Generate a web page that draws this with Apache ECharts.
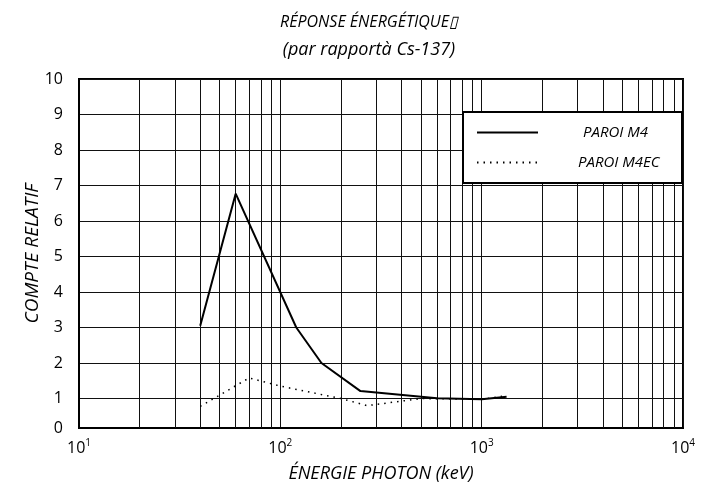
<!DOCTYPE html>
<html><head><meta charset="utf-8">
<script src="https://cdn.jsdelivr.net/npm/echarts@6/dist/echarts.min.js"></script>
<style>html,body{margin:0;padding:0;background:#fff}#c{width:707px;height:495px}</style>
</head><body><div id="c"></div>
<script>
// ---- data ----
const seriesNames = ['PAROI M4', 'PAROI M4EC'];
const energyM4   = [40, 60, 120, 160, 250, 600, 1000, 1330];
const valuesM4   = [3.05, 6.77, 3.0, 2.0, 1.21, 1.01, 0.98, 1.05];
const energyM4EC = [40, 70, 100, 200, 270, 500, 1000, 1330];
const valuesM4EC = [0.78, 1.58, 1.35, 1.0, 0.8, 1.0, 0.98, 1.08];
const xTickExponents = { 10: '1', 100: '2', 1000: '3', 10000: '4' };
const minorGridValues = [20, 30, 40, 50, 60, 70, 80, 90,
                         200, 300, 400, 500, 600, 700, 800, 900,
                         2000, 3000, 4000, 5000, 6000, 7000, 8000, 9000];
const titleLine1 = 'RÉPONSE ÉNERGÉTIQUE\u25AF';
const titleLine2 = '(par rapportà Cs-137)';
const xName = 'ÉNERGIE PHOTON (keV)';
const yName = 'COMPTE RELATIF';

const FONT = '"Open Sans", Lato, sans-serif';
const toPairs = (xs, ys) => xs.map((x, i) => [x, ys[i]]);

const chart = echarts.init(document.getElementById('c'));
chart.setOption({
  animation: false,
  backgroundColor: '#fff',
  textStyle: { fontFamily: FONT, color: '#000' },
  title: {
    text: '{a|' + titleLine1 + '}\n{b|' + titleLine2 + '}',
    left: 364, top: 3, textAlign: 'center',
    textStyle: {
      fontWeight: 'normal',
      rich: {
        a: { fontFamily: FONT, fontStyle: 'italic', fontWeight: 'normal', fontSize: 16, lineHeight: 28, color: '#000', align: 'center' },
        b: { fontFamily: FONT, fontStyle: 'italic', fontWeight: 'normal', fontSize: 18, lineHeight: 28, color: '#000', align: 'center' }
      }
    }
  },
  grid: { left: 79, right: 24, top: 79, bottom: 67, show: true, borderColor: '#000', borderWidth: 2, backgroundColor: 'transparent' },
  xAxis: {
    type: 'log', logBase: 10, min: 10, max: 10000,
    name: xName, nameLocation: 'middle', nameGap: 37,
    nameTextStyle: { fontFamily: FONT, fontStyle: 'italic', fontSize: 18, color: '#000' },
    axisLine: { show: true, lineStyle: { color: '#000', width: 2 } },
    axisTick: { show: false },
    splitLine: { show: true, lineStyle: { color: '#111', width: 1 } },
    axisLabel: {
      margin: 10,
      formatter: v => '{b|10}{s|' + (xTickExponents[Math.round(v)] || '') + '}',
      rich: {
        b: { fontFamily: FONT, fontSize: 16, color: '#000' },
        s: { fontFamily: FONT, fontSize: 10, color: '#000', padding: [0, 0, 10, 0] }
      }
    }
  },
  yAxis: {
    type: 'value', min: 0.17, max: 10, splitNumber: 10, minInterval: 1, maxInterval: 1,
    name: yName, nameLocation: 'middle', nameGap: 37, nameRotate: 90, nameMoveOverlap: false,
    nameTextStyle: { fontFamily: FONT, fontStyle: 'italic', fontSize: 19, color: '#000' },
    axisLine: { show: true, lineStyle: { color: '#000', width: 2 } },
    axisTick: { show: false },
    splitLine: { show: true, lineStyle: { color: '#111', width: 1 } },
    axisLabel: {
      margin: 16, fontFamily: FONT, fontSize: 16, color: '#000',
      showMinLabel: true,
      formatter: v => (v < 0.5 ? '0' : String(Math.round(v)))
    }
  },
  legend: {
    orient: 'vertical', left: 471, top: 120, z: 20,
    itemWidth: 61, itemHeight: 14, itemGap: 15,
    itemStyle: { opacity: 0 },
    data: [
      { name: seriesNames[0], textStyle: { padding: [0, 0, 0, 40] } },
      { name: seriesNames[1], textStyle: { padding: [0, 0, 0, 35] } }
    ],
    textStyle: { fontFamily: FONT, fontStyle: 'italic', fontSize: 15, color: '#000' }
  },
  graphic: [{
    type: 'rect', z: 15,
    shape: { x: 463, y: 112, width: 219, height: 71 },
    style: { fill: '#fff', stroke: '#000', lineWidth: 2 }
  }],
  series: [
    {
      name: seriesNames[0], type: 'line', data: toPairs(energyM4, valuesM4),
      symbol: 'none', z: 3,
      lineStyle: { color: '#000', width: 2, type: 'solid' },
      itemStyle: { color: '#000' },
      markLine: {
        silent: true, symbol: ['none', 'none'], z: 1, animation: false,
        label: { show: false },
        lineStyle: { color: '#111', width: 1, type: 'solid' },
        emphasis: { disabled: true },
        data: minorGridValues.map(v => ({ xAxis: v }))
      }
    },
    {
      name: seriesNames[1], type: 'line', data: toPairs(energyM4EC, valuesM4EC),
      symbol: 'none', z: 3,
      lineStyle: { color: '#000', width: 1.5, type: [1.5, 5], cap: 'butt' },
      itemStyle: { color: '#000' }
    }
  ]
});
</script>
</body></html>
